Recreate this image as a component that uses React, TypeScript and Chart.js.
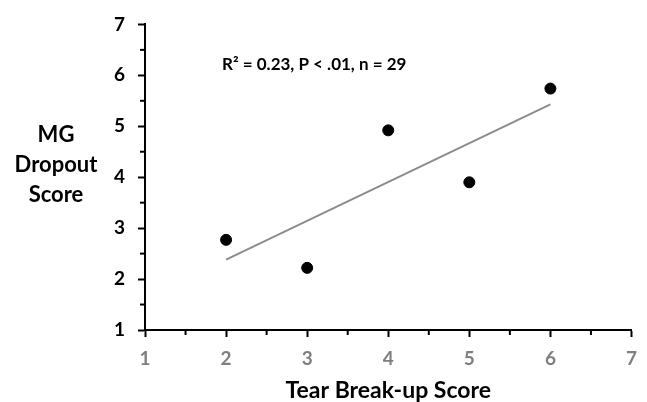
import React, { useEffect, useRef } from "react";
import { Chart, registerables } from "chart.js";

Chart.register(...registerables);

const tearScores = [2, 3, 4, 5, 6];
const dropoutScores = [2.77, 2.22, 4.92, 3.9, 5.74];
const trendX = [2, 6];
const trendY = [2.38, 5.43];
const axisMin = 1;
const axisMax = 7;
const xTitle = "Tear Break-up Score";
const yTitleLines = ["MG", "Dropout", "Score"];
const annotation = "R\u00B2 = 0.23, P < .01, n = 29";

const FONT = "Lato";

const extrasPlugin = {
  id: "extras",
  afterDraw(chart: any) {
    const ctx = chart.ctx;
    const xs = chart.scales.x;
    const ys = chart.scales.y;
    const area = chart.chartArea;
    ctx.save();
    // minor ticks
    ctx.strokeStyle = "#000";
    ctx.lineWidth = 2;
    for (let v = axisMin + 0.5; v < axisMax; v += 1) {
      const px = xs.getPixelForValue(v);
      ctx.beginPath();
      ctx.moveTo(px, area.bottom);
      ctx.lineTo(px, area.bottom + 5);
      ctx.stroke();
      const py = ys.getPixelForValue(v);
      ctx.beginPath();
      ctx.moveTo(area.left - 5, py);
      ctx.lineTo(area.left, py);
      ctx.stroke();
    }
    // y title (horizontal, three lines)
    ctx.fillStyle = "#000";
    ctx.font = `bold 22px ${FONT}`;
    ctx.textAlign = "center";
    ctx.textBaseline = "middle";
    const midY = ys.getPixelForValue(4.25);
    yTitleLines.forEach((t, i) => {
      ctx.fillText(t, 56, midY + (i - 1) * 30);
    });
    // annotation
    ctx.font = `bold 17px ${FONT}`;
    ctx.textAlign = "left";
    ctx.fillText(annotation, 222, 65);
    ctx.restore();
  },
};

export default function App() {
  const ref = useRef<HTMLCanvasElement | null>(null);
  useEffect(() => {
    if (!ref.current) return;
    const chart = new Chart(ref.current, {
      type: "scatter",
      data: {
        datasets: [
          {
            type: "line",
            data: trendX.map((x, i) => ({ x, y: trendY[i] })),
            borderColor: "#8c8c8c",
            borderWidth: 2,
            pointRadius: 0,
            fill: false,
          } as any,
          {
            type: "scatter",
            data: tearScores.map((x, i) => ({ x, y: dropoutScores[i] })),
            backgroundColor: "#000",
            borderColor: "#000",
            pointRadius: 5.5,
            pointHoverRadius: 5.5,
          },
        ],
      },
      options: {
        animation: false,
        responsive: false,
        maintainAspectRatio: false,
        layout: { padding: { left: 0, right: 10, top: 21, bottom: 0 } },
        plugins: { legend: { display: false }, tooltip: { enabled: false } },
        scales: {
          x: {
            type: "linear",
            min: axisMin,
            max: axisMax,
            ticks: {
              stepSize: 1,
              color: "#7f7f7f",
              font: { family: FONT, size: 19, weight: "bold" },
              padding: 10,
            },
            grid: {
              drawOnChartArea: false,
              drawTicks: true,
              tickLength: 7,
              tickColor: "#000",
              tickWidth: 2,
            },
            border: { color: "#000", width: 2 },
            title: {
              display: true,
              text: xTitle,
              color: "#000",
              font: { family: FONT, size: 23, weight: "bold", lineHeight: 1 },
              padding: { top: 0, bottom: 0 },
            },
            afterFit(scale: any) {
              scale.height = 72;
            },
          },
          y: {
            type: "linear",
            min: axisMin,
            max: axisMax,
            ticks: {
              stepSize: 1,
              color: "#000",
              font: { family: FONT, size: 19, weight: "bold" },
              padding: 13,
            },
            grid: {
              drawOnChartArea: false,
              drawTicks: true,
              tickLength: 7,
              tickColor: "#000",
              tickWidth: 2,
            },
            border: { color: "#000", width: 2 },
            afterFit(scale: any) {
              scale.width = 145;
            },
          },
        },
      },
      plugins: [extrasPlugin],
    } as any);
    return () => chart.destroy();
  }, []);
  return (
    <div style={{ position: "fixed", left: 0, top: 0, width: 647, height: 402, background: "#fff" }}>
      <canvas ref={ref} width={647} height={402} style={{ width: 647, height: 402 }} />
    </div>
  );
}
